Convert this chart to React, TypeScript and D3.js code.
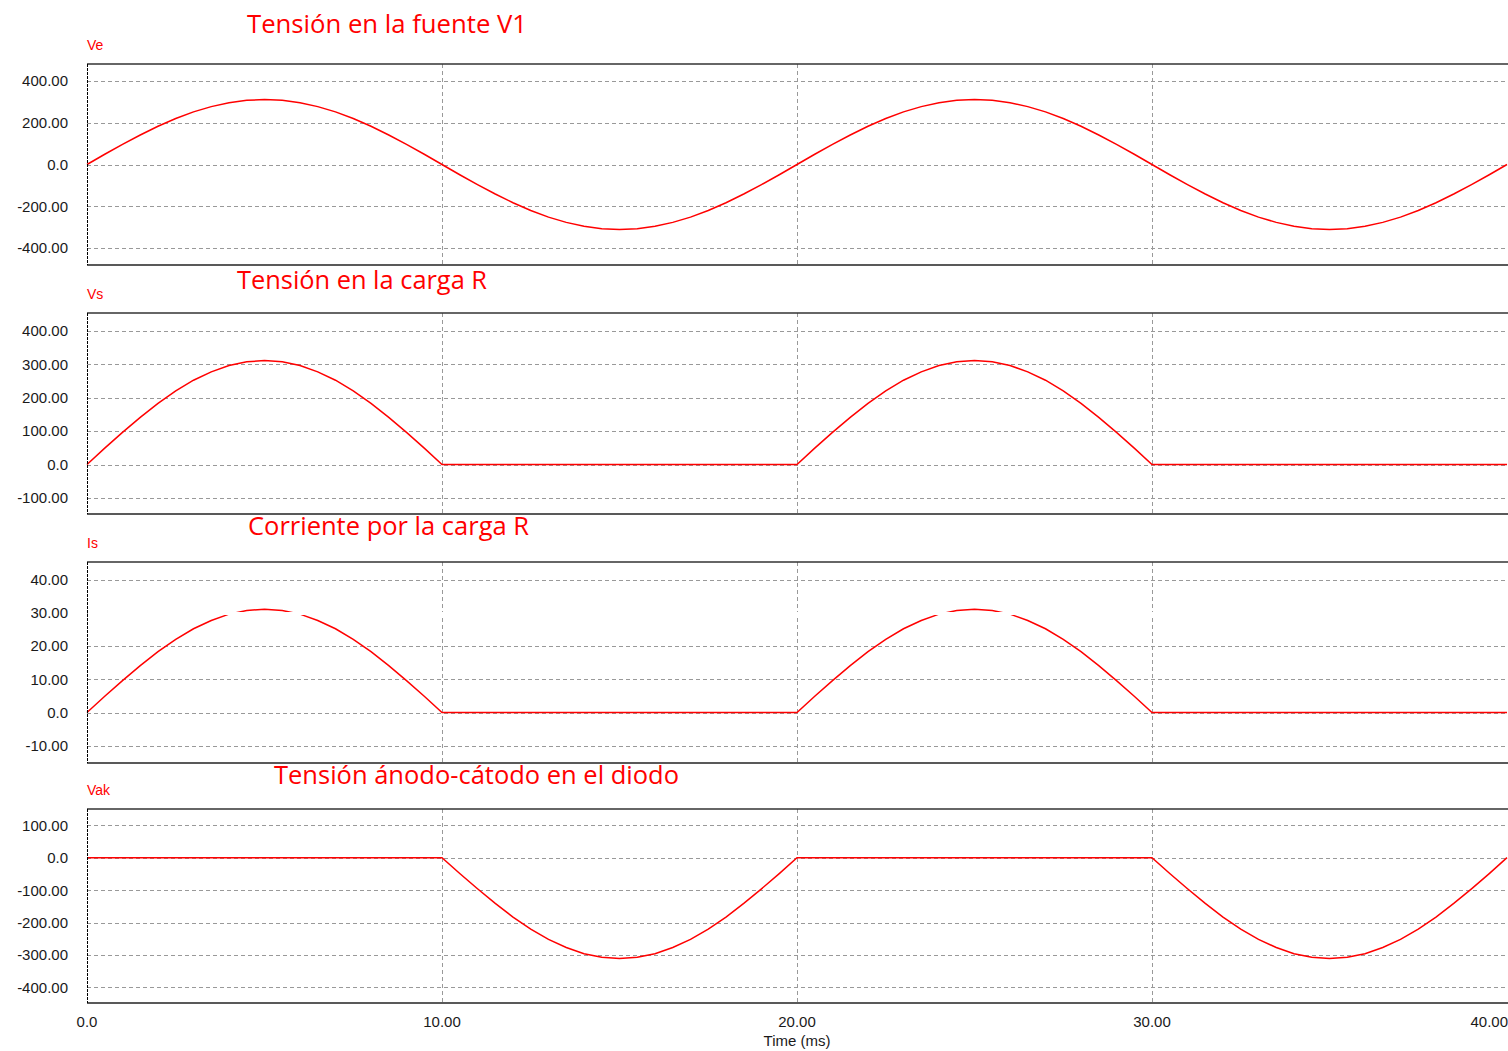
import { useEffect } from 'react'
import * as d3 from 'd3'

// Sample times (ms), one every 0.5 ms across the 40 ms window
const timeMs = d3.range(0, 40.25, 0.5)

// Ve: source voltage V1
const ve = [
  0, 49, 96, 141, 183, 220, 252, 277, 296, 307, 311, 307, 296, 277, 252, 220, 183, 141, 96, 49,
  0, -49, -96, -141, -183, -220, -252, -277, -296, -307, -311, -307, -296, -277, -252, -220, -183, -141, -96, -49,
  0, 49, 96, 141, 183, 220, 252, 277, 296, 307, 311, 307, 296, 277, 252, 220, 183, 141, 96, 49,
  0, -49, -96, -141, -183, -220, -252, -277, -296, -307, -311, -307, -296, -277, -252, -220, -183, -141, -96, -49,
  0,
]

// Vs: load voltage
const vs = [
  0, 49, 96, 141, 183, 220, 252, 277, 296, 307, 311, 307, 296, 277, 252, 220, 183, 141, 96, 49,
  0, 0, 0, 0, 0, 0, 0, 0, 0, 0, 0, 0, 0, 0, 0, 0, 0, 0, 0, 0,
  0, 49, 96, 141, 183, 220, 252, 277, 296, 307, 311, 307, 296, 277, 252, 220, 183, 141, 96, 49,
  0, 0, 0, 0, 0, 0, 0, 0, 0, 0, 0, 0, 0, 0, 0, 0, 0, 0, 0, 0,
  0,
]

// Is: load current
const is = [
  0, 4.9, 9.6, 14.1, 18.3, 22.0, 25.2, 27.7, 29.6, 30.7, 31.1, 30.7, 29.6, 27.7, 25.2, 22.0, 18.3, 14.1, 9.6, 4.9,
  0, 0, 0, 0, 0, 0, 0, 0, 0, 0, 0, 0, 0, 0, 0, 0, 0, 0, 0, 0,
  0, 4.9, 9.6, 14.1, 18.3, 22.0, 25.2, 27.7, 29.6, 30.7, 31.1, 30.7, 29.6, 27.7, 25.2, 22.0, 18.3, 14.1, 9.6, 4.9,
  0, 0, 0, 0, 0, 0, 0, 0, 0, 0, 0, 0, 0, 0, 0, 0, 0, 0, 0, 0,
  0,
]

// Vak: diode anode-cathode voltage
const vak = [
  0, 0, 0, 0, 0, 0, 0, 0, 0, 0, 0, 0, 0, 0, 0, 0, 0, 0, 0, 0,
  0, -49, -96, -141, -183, -220, -252, -277, -296, -307, -311, -307, -296, -277, -252, -220, -183, -141, -96, -49,
  0, 0, 0, 0, 0, 0, 0, 0, 0, 0, 0, 0, 0, 0, 0, 0, 0, 0, 0, 0,
  0, -49, -96, -141, -183, -220, -252, -277, -296, -307, -311, -307, -296, -277, -252, -220, -183, -141, -96, -49,
  0,
]

const seriesNames = ['Ve', 'Vs', 'Is', 'Vak']
const titles = [
  'Tensión en la fuente V1',
  'Tensión en la carga R',
  'Corriente por la carga R',
  'Tensión ánodo-cátodo en el diodo',
]
const yTicks = [
  [400, 200, 0, -200, -400],
  [400, 300, 200, 100, 0, -100],
  [40, 30, 20, 10, 0, -10],
  [100, 0, -100, -200, -300, -400],
]
const yDomains: [number, number][] = [
  [-481, 481],
  [-148, 453],
  [-15.2, 45.3],
  [-448, 150],
]
const xTicks = [0, 10, 20, 30, 40]
const seriesData = [ve, vs, is, vak]

// layout
const W = 1508, H = 1051
const X0 = 87, X1 = 1507
const panelBox = [
  { top: 64, bottom: 265 },
  { top: 313, bottom: 514 },
  { top: 562, bottom: 763 },
  { top: 809, bottom: 1003 },
]
const titleBox = [
  { x: 247, y: 33, len: 280 },
  { x: 237, y: 289, len: 250 },
  { x: 248, y: 535, len: 281 },
  { x: 274, y: 784, len: 405 },
]

const fmt = (v: number) => (v === 0 ? '0.0' : v.toFixed(2))
const AXIS_FONT = '"Liberation Sans", Arial, sans-serif'
const TITLE_FONT = '"Open Sans", "Noto Sans", sans-serif'
const snap = (v: number) => Math.round(v) + 0.5

export default function App() {
  useEffect(() => {
    document.body.style.margin = '0'
  }, [])

  const x = d3.scaleLinear().domain([0, 40]).range([X0, X1])

  return (
    <svg width={W} height={H} style={{ display: 'block', background: '#fff' }}>
      {seriesNames.map((name, i) => {
        const { top, bottom } = panelBox[i]
        const y = d3.scaleLinear().domain(yDomains[i]).range([bottom, top])
        const line = d3.line<number>()
          .x((_, k) => x(timeMs[k]))
          .y((d) => y(d))
        const t = titleBox[i]
        return (
          <g key={name}>
            {/* horizontal grid */}
            {yTicks[i].map((v) => (
              <line key={'h' + v} x1={X0} x2={W} y1={snap(y(v))} y2={snap(y(v))}
                stroke="#999" strokeWidth={1} strokeDasharray="4 3" shapeRendering="crispEdges" />
            ))}
            {/* vertical grid */}
            {xTicks.slice(1, -1).map((v) => (
              <line key={'v' + v} x1={snap(x(v))} x2={snap(x(v))} y1={top} y2={bottom}
                stroke="#999" strokeWidth={1} strokeDasharray="4 3" shapeRendering="crispEdges" />
            ))}
            {/* tick labels */}
            {yTicks[i].map((v) => (
              <text key={'t' + v} x={68} y={y(v)} dy="0.36em" textAnchor="end"
                fontFamily={AXIS_FONT} fontSize={15} fill="#1a1a1a">{fmt(v)}</text>
            ))}
            {/* signal */}
            <path d={line(seriesData[i]) ?? ''} fill="none" stroke="#ff0000" strokeWidth={1.5} />
            {i === 2 && (
              <>
                {/* the 30.00 grid row is blanked out in the original capture */}
                <rect x={X0 + 1} y={Math.round(y(30)) - 1} width={W - X0} height={3} fill="#fff" />
                <rect x={27} y={y(30) - 8} width={4} height={16} fill="#fff" />
              </>
            )}
            {/* frame */}
            <line x1={X0} x2={W} y1={top} y2={top} stroke="#333" strokeWidth={1.5} />
            <line x1={X0} x2={W} y1={bottom} y2={bottom} stroke="#222" strokeWidth={1.5} />
            <line x1={snap(X0)} x2={snap(X0)} y1={top} y2={bottom} stroke="#000" strokeWidth={1}
              strokeDasharray="3 1" shapeRendering="crispEdges" />
            {/* series label */}
            <text x={X0} y={top - 14} fontFamily={AXIS_FONT} fontSize={14} fill="#ff0000">{name}</text>
            {/* panel title */}
            <text x={t.x} y={t.y} fontFamily={TITLE_FONT} fontSize={26} fill="#ff0000"
              textLength={t.len} lengthAdjust="spacingAndGlyphs">{titles[i]}</text>
          </g>
        )
      })}
      {/* time axis labels */}
      {xTicks.map((v, k) => (
        <text key={'x' + v} x={k === xTicks.length - 1 ? W : x(v)} y={1027}
          textAnchor={k === xTicks.length - 1 ? 'end' : 'middle'}
          fontFamily={AXIS_FONT} fontSize={15} fill="#1a1a1a">{fmt(v)}</text>
      ))}
      <text x={x(20)} y={1046} textAnchor="middle" fontFamily={AXIS_FONT} fontSize={15} fill="#1a1a1a">Time (ms)</text>
    </svg>
  )
}
